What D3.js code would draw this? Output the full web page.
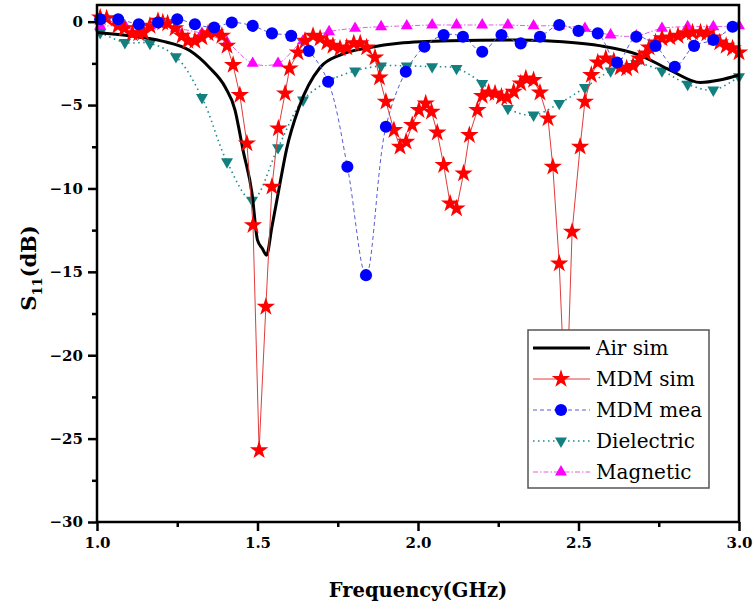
<!DOCTYPE html>
<html>
<head>
<meta charset="utf-8">
<script src="https://cdn.jsdelivr.net/npm/d3@7"></script>
<style>
  body { margin: 0; background: #fff; }
</style>
</head>
<body>
<div id="chart"></div>
<script>
// Air sim (smooth black curve)
var airFreq = [1.0, 1.1, 1.2, 1.29, 1.35, 1.40, 1.43, 1.445, 1.455, 1.483, 1.50, 1.515, 1.528, 1.545, 1.57, 1.59, 1.63, 1.695, 1.757, 1.85, 1.94, 2.1, 2.32, 2.45, 2.57, 2.69, 2.785, 2.88, 2.94, 3.0];
var airS11 = [-0.65, -0.85, -1.15, -1.75, -2.75, -3.95, -5.3, -6.7, -7.7, -10.3, -13.1, -13.6, -14.0, -12.3, -9.7, -7.7, -5.1, -2.75, -2.0, -1.55, -1.3, -1.15, -1.1, -1.2, -1.45, -2.0, -2.9, -3.65, -3.5, -3.2];

// MDM sim (red stars)
var mdmSimFreq = [1.01, 1.03, 1.065, 1.085, 1.11, 1.13, 1.145, 1.165, 1.19, 1.205, 1.22, 1.243, 1.265, 1.283, 1.305, 1.327, 1.346, 1.368, 1.389, 1.405, 1.424, 1.445, 1.467, 1.486, 1.505, 1.526, 1.545, 1.565, 1.586, 1.60, 1.626, 1.648, 1.673, 1.695, 1.716, 1.735, 1.757, 1.778, 1.80, 1.82, 1.84, 1.866, 1.88, 1.90, 1.925, 1.944, 1.963, 1.982, 2.003, 2.024, 2.042, 2.06, 2.08, 2.1, 2.12, 2.142, 2.16, 2.185, 2.20, 2.22, 2.24, 2.26, 2.277, 2.298, 2.32, 2.336, 2.36, 2.38, 2.405, 2.42, 2.44, 2.461, 2.48, 2.505, 2.52, 2.54, 2.56, 2.585, 2.61, 2.63, 2.65, 2.67, 2.69, 2.71, 2.72, 2.74, 2.76, 2.785, 2.81, 2.835, 2.855, 2.88, 2.90, 2.92, 2.94, 2.96, 2.98, 3.0];
var mdmSimS11 = [0.25, 0.2, -0.25, -0.4, -0.7, -0.7, -0.65, -0.25, 0.05, -0.05, -0.1, -0.4, -0.85, -1.15, -1.15, -0.95, -0.7, -0.65, -0.85, -1.45, -2.6, -4.4, -7.3, -12.2, -25.7, -17.1, -9.9, -6.4, -4.3, -2.8, -1.85, -1.15, -0.85, -1.0, -1.25, -1.45, -1.6, -1.55, -1.3, -1.3, -1.55, -2.15, -3.35, -4.8, -6.5, -7.5, -7.2, -6.2, -5.3, -4.9, -5.4, -6.65, -8.6, -10.9, -11.2, -9.1, -6.8, -5.3, -4.45, -4.25, -4.3, -4.5, -4.55, -4.2, -3.7, -3.4, -3.5, -4.25, -5.8, -8.7, -14.5, -24.0, -12.6, -7.5, -4.8, -3.2, -2.45, -2.2, -2.35, -2.75, -2.8, -2.65, -2.2, -1.9, -1.55, -1.25, -1.0, -0.95, -0.85, -0.7, -0.65, -0.65, -0.7, -0.95, -1.25, -1.45, -1.6, -1.85];

// MDM mea (blue circles)
var mdmMeaFreq = [1.01, 1.066, 1.13, 1.19, 1.25, 1.305, 1.365, 1.42, 1.485, 1.545, 1.605, 1.66, 1.72, 1.78, 1.838, 1.90, 1.962, 2.02, 2.08, 2.14, 2.20, 2.26, 2.32, 2.38, 2.44, 2.50, 2.56, 2.62, 2.68, 2.74, 2.80, 2.86, 2.92, 2.98];
var mdmMeaS11 = [0.15, 0.15, -0.15, -0.05, 0.15, -0.15, -0.35, -0.05, -0.25, -0.7, -0.85, -1.75, -3.6, -8.7, -15.2, -6.3, -3.0, -1.5, -0.8, -0.9, -1.8, -0.8, -1.3, -0.9, -0.2, -0.55, -0.7, -2.45, -0.9, -1.45, -2.7, -1.45, -1.1, -0.3];

// Dielectric (teal down triangles)
var dielFreq = [1.01, 1.087, 1.165, 1.246, 1.327, 1.405, 1.483, 1.564, 1.642, 1.723, 1.804, 1.885, 1.965, 2.044, 2.12, 2.20, 2.28, 2.36, 2.44, 2.52, 2.60, 2.68, 2.76, 2.84, 2.92, 3.0];
var dielS11 = [-0.65, -1.25, -1.3, -2.1, -4.55, -8.4, -10.7, -7.55, -4.7, -3.55, -2.95, -2.65, -2.65, -2.7, -2.8, -3.7, -5.2, -5.6, -4.9, -3.95, -2.95, -2.5, -2.95, -3.75, -4.1, -3.3];

// Magnetic (magenta up triangles)
var magFreq = [1.01, 1.087, 1.165, 1.246, 1.327, 1.405, 1.485, 1.564, 1.642, 1.723, 1.804, 1.885, 1.965, 2.044, 2.12, 2.20, 2.28, 2.36, 2.44, 2.52, 2.60, 2.68, 2.76, 2.84, 2.92, 3.0];
var magS11 = [-0.25, -0.25, -0.25, -0.4, -0.7, -1.25, -2.5, -2.5, -1.15, -0.6, -0.4, -0.3, -0.25, -0.2, -0.2, -0.2, -0.2, -0.25, -0.25, -0.4, -0.8, -0.85, -0.4, -0.3, -0.3, -0.25];

var xTicks = [1.0, 1.5, 2.0, 2.5, 3.0];
var yTicks = [0, -5, -10, -15, -20, -25, -30];
var legendNames = ["Air sim", "MDM sim", "MDM mea", "Dielectric", "Magnetic"];

// only DejaVu Serif gives a serif face here
var serif = "'DejaVu Serif', serif";

var w = 754, h = 610;
var svg = d3.select("#chart").append("svg")
    .attr("width", w)
    .attr("height", h)
    .style("font-family", serif);

var x = d3.scaleLinear().domain([1, 3]).range([97, 739]);
var y = d3.scaleLinear().domain([-30, 1]).range([522, 5]);

function zip(fs, vs) {
    return fs.map(function(f, i) { return [f, vs[i]]; });
}

var series = [
    { name: "Magnetic", data: zip(magFreq, magS11), color: "#e060e0", width: 1, dash: "5,2,1.5,2",
      curve: d3.curveCatmullRom, mark: "triUp", mcolor: "#ff00ff" },
    { name: "Dielectric", data: zip(dielFreq, dielS11), color: "#1c8a8a", width: 1.6, dash: "1.5,3.5",
      curve: d3.curveCatmullRom, mark: "triDown", mcolor: "#138080" },
    { name: "Air sim", data: zip(airFreq, airS11), color: "#000", width: 3, dash: null,
      curve: d3.curveMonotoneX, mark: null },
    { name: "MDM sim", data: zip(mdmSimFreq, mdmSimS11), color: "#e03c3c", width: 1, dash: null,
      curve: d3.curveLinear, mark: "star", mcolor: "#ff0000" },
    { name: "MDM mea", data: zip(mdmMeaFreq, mdmMeaS11), color: "#5a5ad8", width: 1, dash: "4,3",
      curve: d3.curveCatmullRom, mark: "circle", mcolor: "#0000ff" }
];

var symbols = {
    star: d3.symbol().type(d3.symbolStar).size(105),
    circle: d3.symbol().type(d3.symbolCircle).size(115),
    triUp: d3.symbol().type(d3.symbolTriangle).size(62),
    triDown: d3.symbol().type(d3.symbolTriangle).size(62)
};

function drawMark(g, s, px, py) {
    var p = g.append("path")
        .attr("d", symbols[s.mark]())
        .attr("fill", s.mcolor);
    if (s.mark == "triDown") {
        p.attr("transform", "translate(" + px + "," + py + ") rotate(180)");
    } else {
        p.attr("transform", "translate(" + px + "," + py + ")");
    }
}

// curves
series.forEach(function(s) {
    var line = d3.line()
        .x(function(d) { return x(d[0]); })
        .y(function(d) { return y(d[1]); })
        .curve(s.curve);
    svg.append("path")
        .datum(s.data)
        .attr("d", line)
        .attr("fill", "none")
        .attr("stroke", s.color)
        .attr("stroke-width", s.width)
        .attr("stroke-dasharray", s.dash);
    if (s.mark) {
        var g = svg.append("g");
        s.data.forEach(function(d) { drawMark(g, s, x(d[0]), y(d[1])); });
    }
});

// frame
svg.append("rect")
    .attr("x", x(1)).attr("y", y(1))
    .attr("width", x(3) - x(1)).attr("height", y(-30) - y(1))
    .attr("fill", "none").attr("stroke", "#000").attr("stroke-width", 2.5);

function styleAxis(g) {
    g.attr("font-family", null);
    g.select(".domain").remove();
    g.selectAll(".tick line").attr("stroke-width", 2.5);
    g.selectAll(".tick text")
        .style("font-family", serif)
        .style("font-size", "15px").style("font-weight", "bold").attr("fill", "#000");
}

// x axis
var gx = svg.append("g").attr("transform", "translate(0," + y(-30) + ")")
    .call(d3.axisBottom(x).tickValues(xTicks).tickFormat(d3.format(".1f")).tickSize(9).tickPadding(6));
styleAxis(gx);
var gxm = svg.append("g").attr("transform", "translate(0," + y(-30) + ")")
    .call(d3.axisBottom(x).tickValues([1.25, 1.75, 2.25, 2.75]).tickFormat("").tickSize(5));
styleAxis(gxm);

// y axis
var gy = svg.append("g").attr("transform", "translate(" + x(1) + ",0)")
    .call(d3.axisLeft(y).tickValues(yTicks).tickFormat(d3.format("d")).tickSize(9).tickPadding(5));
styleAxis(gy);
var gym = svg.append("g").attr("transform", "translate(" + x(1) + ",0)")
    .call(d3.axisLeft(y).tickValues([-2.5, -7.5, -12.5, -17.5, -22.5, -27.5]).tickFormat("").tickSize(5));
styleAxis(gym);

// axis titles
svg.append("text")
    .attr("x", 418).attr("y", 597)
    .attr("text-anchor", "middle")
    .style("font-family", serif)
    .style("font-size", "19.5px").style("font-weight", "bold")
    .text("Frequency(GHz)");

var yt = svg.append("text")
    .attr("transform", "translate(36,268) rotate(-90)")
    .attr("text-anchor", "middle")
    .style("font-family", serif)
    .style("font-size", "21px").style("font-weight", "bold");
yt.append("tspan").text("S");
yt.append("tspan").attr("dy", 6).style("font-size", "13px").text("11");
yt.append("tspan").attr("dy", -6).text("(dB)");

// legend
var lg = svg.append("g");
lg.append("rect")
    .attr("x", 528).attr("y", 330).attr("width", 181).attr("height", 158)
    .attr("fill", "#fff").attr("stroke", "#555").attr("stroke-width", 1.5);
legendNames.forEach(function(name, i) {
    var s = series.filter(function(d) { return d.name == name; })[0];
    var ly = 348 + i * 31;
    lg.append("line")
        .attr("x1", 533).attr("x2", 590).attr("y1", ly).attr("y2", ly)
        .attr("stroke", s.color).attr("stroke-width", s.width)
        .attr("stroke-dasharray", s.dash);
    if (s.mark) drawMark(lg, s, 561, ly);
    lg.append("text")
        .attr("x", 596).attr("y", ly + 7)
        .style("font-family", serif)
        .style("font-size", "20px")
        .text(name);
});
</script>
</body>
</html>
